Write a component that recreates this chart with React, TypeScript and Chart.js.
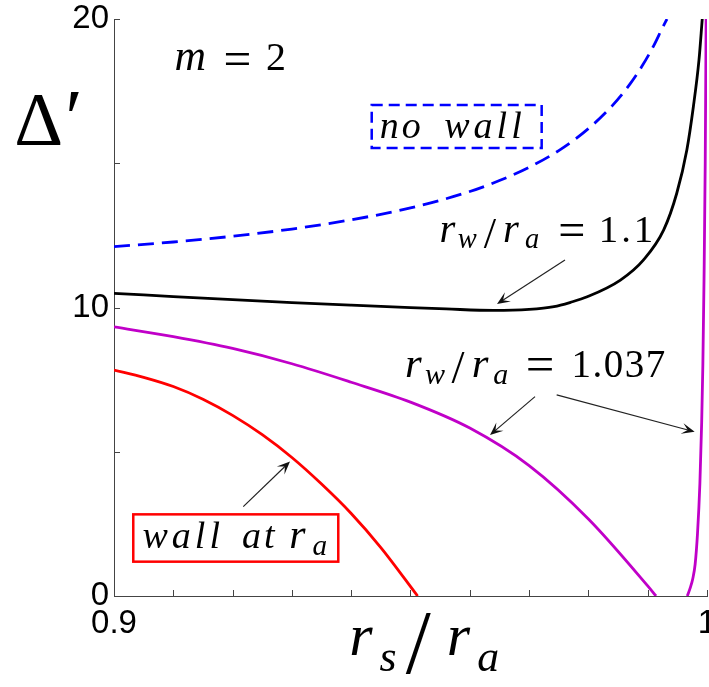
import React, { useEffect, useRef } from 'react';
import { Chart, registerables } from 'chart.js';

Chart.register(...registerables);

// Δ' versus r_s/r_a for the m = 2 mode
const noWallX = [0.9, 0.91, 0.92, 0.93, 0.94, 0.95, 0.96, 0.965, 0.97, 0.975, 0.98, 0.984, 0.987, 0.989, 0.991, 0.9925, 0.99325];
const noWallY = [12.11, 12.27, 12.47, 12.72, 13.04, 13.45, 14.02, 14.4, 14.86, 15.44, 16.2, 16.99, 17.74, 18.35, 19.07, 19.7, 20];

const wall11X = [0.9, 0.91, 0.92, 0.93, 0.94, 0.95, 0.956, 0.964, 0.97, 0.9742, 0.977, 0.9798, 0.9854, 0.9893, 0.9927, 0.9949, 0.9966, 0.9977, 0.99865, 0.9992];
const wall11Y = [10.49, 10.38, 10.27, 10.17, 10.08, 9.995, 9.95, 9.9, 9.935, 10.03, 10.18, 10.37, 10.95, 11.65, 12.69, 13.96, 15.46, 16.96, 18.58, 20];

const wall1037LowX = [0.9, 0.91, 0.92, 0.93, 0.94, 0.95, 0.96, 0.97, 0.98, 0.99, 0.9914];
const wall1037LowY = [9.33, 8.99, 8.58, 8.05, 7.41, 6.72, 5.82, 4.52, 2.67, 0.35, 0];

const wall1037HighX = [0.99668, 0.9972, 0.9976, 0.998, 0.9984, 0.9988, 0.9991, 0.9993, 0.9995, 0.9997, 0.99985];
const wall1037HighY = [0, 0.3, 0.6, 1.1, 2.17, 3.9, 6.0, 8.0, 11, 15, 20];

const wallAtRaX = [0.9, 0.905, 0.91, 0.915, 0.92, 0.925, 0.93, 0.935, 0.94, 0.945, 0.9512];
const wallAtRaY = [7.83, 7.58, 7.26, 6.82, 6.26, 5.59, 4.8, 3.88, 2.86, 1.68, 0];

const xLabels: Record<string, string> = { '0.9': '0.9', '1': '1' };
const yLabels = [0, 10, 20];

const SERIF = '"Liberation Serif", "DejaVu Serif", serif';
const SANS = '"Liberation Sans", Arial, sans-serif';

const pts = (xs: number[], ys: number[]) => xs.map((x, i) => ({ x, y: ys[i] }));

// one piece of a math label: text, centre offset, italic / subscript / scale / shift
type Seg = { t: string; cx: number; it?: boolean; sub?: boolean; ls?: number; k?: number; dy?: number };

function drawMath(ctx: CanvasRenderingContext2D, x: number, y: number, size: number, segs: Seg[], subScale = 0.7, subDrop = 0.18) {
  ctx.save();
  ctx.fillStyle = '#000';
  ctx.textBaseline = 'alphabetic';
  ctx.textAlign = 'left';
  for (const s of segs) {
    const fs = (s.sub ? size * subScale : size) * (s.k || 1);
    ctx.font = `${s.it ? 'italic ' : ''}${fs}px ${SERIF}`;
    (ctx as any).letterSpacing = '0px';
    const ls = s.ls || 0;
    const w = ctx.measureText(s.t).width + ls * (s.t.length - 1);
    (ctx as any).letterSpacing = `${ls}px`;
    ctx.fillText(s.t, x + s.cx - w / 2, y + (s.sub ? size * subDrop : 0) + (s.dy || 0) * size);
  }
  (ctx as any).letterSpacing = '0px';
  ctx.restore();
}

function arrow(ctx: CanvasRenderingContext2D, x1: number, y1: number, x2: number, y2: number) {
  const a = Math.atan2(y2 - y1, x2 - x1);
  const c = Math.cos(a), s = Math.sin(a);
  const L = 13, W = 5.5;
  ctx.save();
  ctx.strokeStyle = '#222';
  ctx.fillStyle = '#111';
  ctx.lineWidth = 1.2;
  ctx.beginPath();
  ctx.moveTo(x1, y1);
  ctx.lineTo(x2 - c * 6, y2 - s * 6);
  ctx.stroke();
  ctx.beginPath();
  ctx.moveTo(x2, y2);
  ctx.lineTo(x2 - L * c + W * s, y2 - L * s - W * c);
  ctx.lineTo(x2 - 0.55 * L * c, y2 - 0.55 * L * s);
  ctx.lineTo(x2 - L * c - W * s, y2 - L * s + W * c);
  ctx.closePath();
  ctx.fill();
  ctx.restore();
}

const EQ = { k: 1.3, dy: 0.12 };
const SLASH = { k: 1.2, dy: 0.16 };

const annotations = {
  id: 'annotations',
  afterDraw(chart: any) {
    const { ctx, chartArea: ca } = chart;
    const xs = chart.scales.x, ys = chart.scales.y;
    const X = (v: number) => xs.getPixelForValue(v);
    const Y = (v: number) => ys.getPixelForValue(v);

    // inward tick marks
    ctx.save();
    ctx.strokeStyle = '#444';
    ctx.lineWidth = 1;
    for (const t of xs.ticks) {
      const px = Math.round(X(t.value)) + 0.5;
      ctx.beginPath();
      ctx.moveTo(px, ca.bottom);
      ctx.lineTo(px, ca.bottom - 6);
      ctx.stroke();
    }
    for (const t of ys.ticks) {
      const py = Math.round(Y(t.value)) + 0.5;
      ctx.beginPath();
      ctx.moveTo(ca.left, py);
      ctx.lineTo(ca.left + 6, py);
      ctx.stroke();
    }
    ctx.restore();

    // axis titles
    drawMath(ctx, ca.left - 114, ca.top + 126, 76, [
      { t: 'Δ', cx: 38.8 },
      { t: '′', cx: 74, k: 1.05 },
    ]);
    drawMath(ctx, ca.left + 231, ca.bottom + 59, 60, [
      { t: 'r', it: true, cx: 15.8, ls: 0 },
      { t: 's', it: true, sub: true, cx: 43 },
      { t: '/', cx: 73.3, k: 1.5, dy: 0.3 },
      { t: 'r', it: true, cx: 113.3 },
      { t: 'a', it: true, sub: true, cx: 143.3 },
    ], 0.73, 0.27);

    // m = 2
    drawMath(ctx, X(0.90973), Y(18.23), 38, [
      { t: 'm', it: true, cx: 18.7, k: 1.15 },
      { t: '=', cx: 65.8, ...EQ },
      { t: '2', cx: 104.2, k: 1.05 },
    ]);

    // "no wall" box
    ctx.save();
    ctx.strokeStyle = '#0000ff';
    ctx.lineWidth = 2.5;
    ctx.setLineDash([11, 6]);
    ctx.strokeRect(X(0.94346), Y(17.02), X(0.97212) - X(0.94346), Y(15.53) - Y(17.02));
    ctx.restore();
    drawMath(ctx, X(0.94514), Y(15.87), 38, [
      { t: 'no', it: true, cx: 18.5, ls: 3 },
      { t: 'wall', it: true, cx: 101.3, ls: 4 },
    ]);

    // r_w/r_a = 1.1
    drawMath(ctx, X(0.95464), Y(12.28), 37, [
      { t: 'r', it: true, cx: 9.3, k: 1.1 },
      { t: 'w', it: true, sub: true, cx: 29.2, k: 1.1 },
      { t: '/', cx: 52, ...SLASH },
      { t: 'r', it: true, cx: 72.9, k: 1.1 },
      { t: 'a', it: true, sub: true, cx: 94, k: 1.1 },
      { t: '=', cx: 133.7, ...EQ },
      { t: '1.1', cx: 188, ls: 3, k: 1.05 },
    ]);
    arrow(ctx, X(0.97605), Y(11.65), X(0.96459), Y(10.12));

    // r_w/r_a = 1.037
    drawMath(ctx, X(0.94879), Y(7.6), 39, [
      { t: 'r', it: true, cx: 10, k: 1.1 },
      { t: 'w', it: true, sub: true, cx: 31.7, k: 1.1 },
      { t: '/', cx: 54.7, ...SLASH },
      { t: 'r', it: true, cx: 76.7, k: 1.1 },
      { t: 'a', it: true, sub: true, cx: 97.5, k: 1.1 },
      { t: '=', cx: 136.7, ...EQ },
      { t: '1.037', cx: 215, ls: 1.5 },
    ]);
    arrow(ctx, X(0.971), Y(6.91), X(0.96341), Y(5.58));
    arrow(ctx, X(0.97465), Y(6.97), X(0.99792), Y(5.69));

    // "wall at r_a" box
    ctx.save();
    ctx.strokeStyle = '#ff0000';
    ctx.lineWidth = 2.5;
    ctx.strokeRect(X(0.90325), Y(2.83), X(0.93782) - X(0.90325), Y(1.19) - Y(2.83));
    ctx.restore();
    drawMath(ctx, X(0.90481), Y(1.65), 38, [
      { t: 'wall', it: true, cx: 38.7, ls: 4 },
      { t: 'at', it: true, cx: 115.7, ls: 3 },
      { t: 'r', it: true, cx: 154.8, k: 1.1 },
      { t: 'a', it: true, sub: true, cx: 177.3, k: 1.1 },
    ]);
    arrow(ctx, X(0.9218), Y(3.1), X(0.92968), Y(4.66));
  },
};

export default function App() {
  const ref = useRef<HTMLCanvasElement>(null);

  useEffect(() => {
    if (!ref.current) return;
    const line = (data: any[], color: string, dash: number[] = []) => ({
      data,
      showLine: true,
      borderColor: color,
      backgroundColor: color,
      borderWidth: 2.8,
      borderDash: dash,
      pointRadius: 0,
      cubicInterpolationMode: 'monotone' as const,
      fill: false,
    });
    const chart = new Chart(ref.current, {
      type: 'scatter',
      data: {
        datasets: [
          line(pts(noWallX, noWallY), '#0000ff', [16, 8]),
          line(pts(wall11X, wall11Y), '#000000'),
          line(pts(wall1037LowX, wall1037LowY), '#c000c8'),
          line(pts(wall1037HighX, wall1037HighY), '#c000c8'),
          line(pts(wallAtRaX, wallAtRaY), '#ff0000'),
        ],
      },
      options: {
        responsive: false,
        animation: false,
        layout: { padding: { left: 0, top: 19, right: 2, bottom: 0 } },
        plugins: { legend: { display: false }, tooltip: { enabled: false } },
        events: [],
        scales: {
          x: {
            type: 'linear',
            min: 0.9,
            max: 1.0,
            grid: { display: false, drawTicks: false },
            border: { display: true, color: '#444', width: 1 },
            ticks: {
              stepSize: 0.01,
              autoSkip: false,
              maxRotation: 0,
              minRotation: 0,
              padding: 8,
              color: '#000',
              font: { family: SANS, size: 33 },
              callback: (v: any) => {
                const key = String(Math.round(Number(v) * 100) / 100);
                return xLabels[key] ?? '';
              },
            },
            afterFit: (s: any) => {
              s.height = 91;
              s.paddingLeft = 0;
              s.paddingRight = 0;
            },
          },
          y: {
            type: 'linear',
            min: 0,
            max: 20,
            grid: { display: false, drawTicks: false },
            border: { display: true, color: '#444', width: 1 },
            ticks: {
              stepSize: 5,
              padding: 5,
              color: '#000',
              font: { family: SANS, size: 33 },
              callback: (v: any) => (yLabels.includes(Number(v)) ? String(v) : ''),
            },
            afterFit: (s: any) => {
              s.width = 114;
              s.paddingTop = 0;
              s.paddingBottom = 0;
            },
          },
        },
      },
      plugins: [annotations],
    });
    return () => chart.destroy();
  }, []);

  return (
    <div style={{ position: 'fixed', left: 0, top: 0, width: 709, height: 687, background: '#fff' }}>
      <canvas ref={ref} width={709} height={687} />
    </div>
  );
}
